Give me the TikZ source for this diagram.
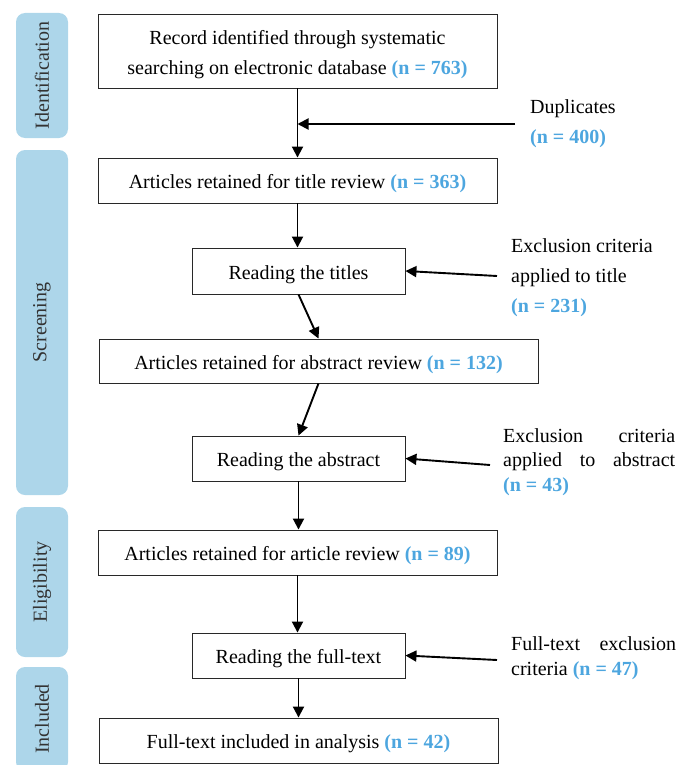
\documentclass[tikz,border=0pt]{standalone}
\usepackage{fontspec}
\setmainfont{Liberation Serif}
\usetikzlibrary{arrows.meta}
\definecolor{barblue}{RGB}{173,214,234}
\definecolor{numblue}{RGB}{77,166,223}
\definecolor{boxline}{RGB}{40,40,40}
\newcommand{\nb}[1]{\textcolor{numblue}{\textbf{#1}}}
\begin{document}
\begin{tikzpicture}[x=1pt,y=-1pt,
  box/.style={draw=boxline, line width=0.9pt, inner sep=0pt, align=center, text height=16pt, text depth=0pt, font=\fontsize{20}{30}\selectfont},
  bar/.style={fill=barblue, rounded corners=9pt, rotate=90, minimum height=52pt, inner sep=0pt, text=black!80, font=\fontsize{20}{22}\selectfont},
  arr/.style={line width=1.9pt, -{Triangle[length=11pt,width=11pt]}},
  lab/.style={anchor=north west, inner sep=0pt, align=left}]
\useasboundingbox (0,0) rectangle (679,765);
% side bars
\node[bar, minimum width=125pt] (sid) at (42,75.5) {Identification};
\node[bar, minimum width=345pt] (sscr) at (42,322.5) {Screening};
\node[bar, minimum width=150pt] (self) at (42,582) {Eligibility};
\node[bar, minimum width=104pt] (sinc) at (42,719) {Included};
% boxes
\node[box, text height=48pt, minimum width=399pt, minimum height=74pt] (b1) at (297.5,51) {Record identified through systematic\\searching on electronic database \nb{(n = 763)}};
\node[box, minimum width=399pt, minimum height=45pt] (b2) at (297.5,180.5) {Articles retained for title review \nb{(n = 363)}};
\node[box, minimum width=213pt, minimum height=46pt] (b3) at (298.5,271) {Reading the titles};
\node[box, minimum width=439pt, minimum height=44pt] (b4) at (318.5,361) {Articles retained for abstract review \nb{(n = 132)}};
\node[box, minimum width=213pt, minimum height=45pt] (b5) at (298.5,458.5) {Reading the abstract};
\node[box, minimum width=399pt, minimum height=45pt] (b6) at (297.5,552.5) {Articles retained for article review \nb{(n = 89)}};
\node[box, minimum width=213pt, minimum height=45pt] (b7) at (298.5,655.5) {Reading the full-text};
\node[box, minimum width=399pt, minimum height=45pt] (b8) at (298.5,740.5) {Full-text included in analysis \nb{(n = 42)}};
% side labels
\node[lab, font=\fontsize{20}{30}\selectfont] (ldup) at (530,99.5) {Duplicates\\\nb{(n = 400)}};
\node[lab, font=\fontsize{20}{30}\selectfont] (ltit) at (511,238.5) {Exclusion criteria\\applied to title\\\nb{(n = 231)}};
\node[lab, font=\fontsize{20}{24.5}\selectfont] (labs) at (503,428) {\makebox[172pt][s]{Exclusion criteria}\\\makebox[172pt][s]{applied to abstract}\\\nb{(n = 43)}};
\node[lab, font=\fontsize{20}{25}\selectfont] (lful) at (511,636.5) {\makebox[165pt][s]{Full-text exclusion}\\criteria \nb{(n = 47)}};
% connectors
\coordinate (dupS) at (515,124);
\coordinate (titS) at (497,276);
\coordinate (absS) at (490,465);
\coordinate (fulS) at (497,660);
\draw[arr] (b1.south) -- (b2.north);
\draw[arr] (dupS) -- (dupS -| b1.south);
\draw[arr] (b2.south) -- (b2.south |- b3.north);
\draw[arr] (titS) -- (b3.east);
\draw[arr] (b3.south) -- (b4.north);
\draw[arr] (b4.south) -- (b5.north);
\draw[arr] (absS) -- (b5.east);
\draw[arr] (b5.south) -- (b6.north -| b5.south);
\draw[arr] (b6.south) -- (b6.south |- b7.north);
\draw[arr] (fulS) -- (b7.east);
\draw[arr] (b7.south) -- (b8.north);
\end{tikzpicture}
\end{document}
